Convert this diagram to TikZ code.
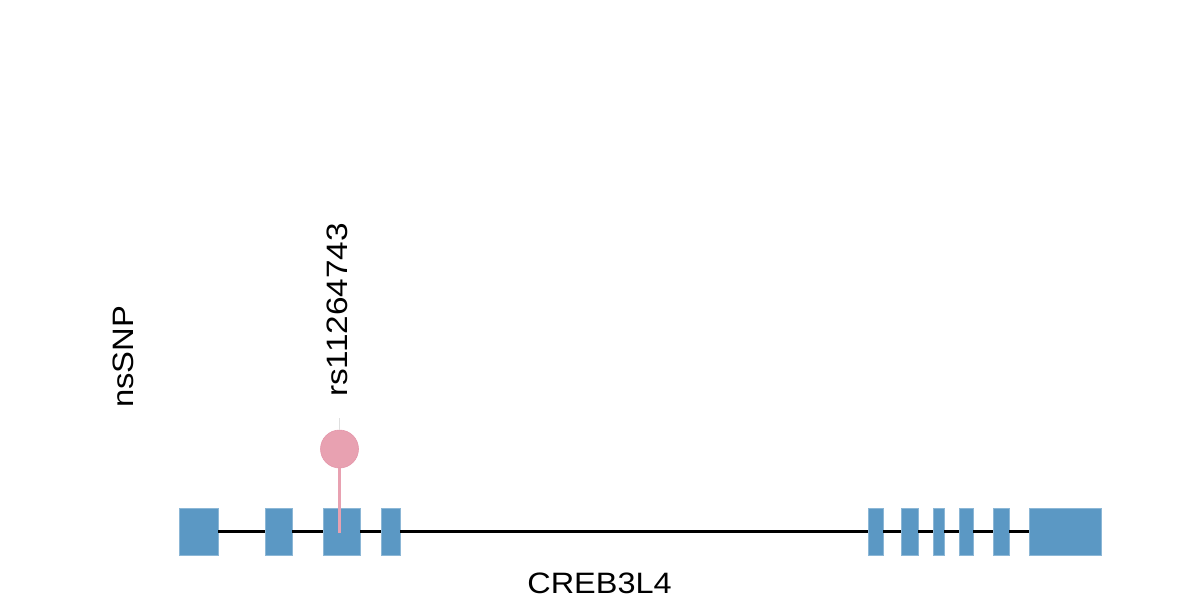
\documentclass[tikz,border=0pt]{standalone}
\usepackage{fontspec}
\setmainfont{Liberation Sans}
\usepackage{graphicx}
\definecolor{exonblue}{RGB}{91,152,196}
\definecolor{snppink}{RGB}{232,161,177}
\definecolor{snpedge}{RGB}{228,150,170}
\begin{document}
\begin{tikzpicture}[x=1pt,y=-1pt,
  exon/.style={fill=exonblue,draw=exonblue!70!white,line width=0.6pt,inner sep=0,outer sep=0,minimum height=47pt},
  lbl/.style={inner sep=0,font=\fontsize{29.5}{35}\selectfont},
  intron/.style={line width=2.1pt,black}]
\useasboundingbox (0,0) rectangle (1200,600);
% exons: name/left/right
\foreach \n/\a/\b in {e1/179/218,e2/265/292,e3/323/360,e4/381/400,e5/868/883,e6/901/918,e7/933/944,e8/959/973,e9/993/1009,e10/1029/1101}{
  \pgfmathsetmacro{\w}{\b-\a}
  \pgfmathsetmacro{\c}{(\a+\b)/2}
  \node[exon,minimum width=\w pt] (\n) at (\c,531.5) {};
}
\foreach \p/\q in {e1/e2,e2/e3,e3/e4,e4/e5,e5/e6,e6/e7,e7/e8,e8/e9,e9/e10}{
  \draw[intron] (\p.east) -- (\q.west);
}
\node[circle,fill=snppink,draw=snpedge,line width=0.6pt,minimum size=38pt,inner sep=0] (snp) at (339.5,449) {};
\coordinate (stemend) at (339.5,532.5);
\draw[snppink,line width=2.2pt] (snp.south) -- (stemend);
\coordinate (tick) at (339.5,418);
\draw[gray!25,line width=0.5pt] (tick) -- (snp.north);
\node[lbl,rotate=90,anchor=base] (rs) at (347,310) {\scalebox{1.13}[1]{rs11264743}};
\node[lbl,rotate=90,anchor=base] (ns) at (133,357) {\scalebox{1.11}[1]{nsSNP}};
\node[lbl,anchor=base] (gene) at (599.5,593) {\scalebox{1.1}[1]{CREB3L4}};
\end{tikzpicture}
\end{document}
